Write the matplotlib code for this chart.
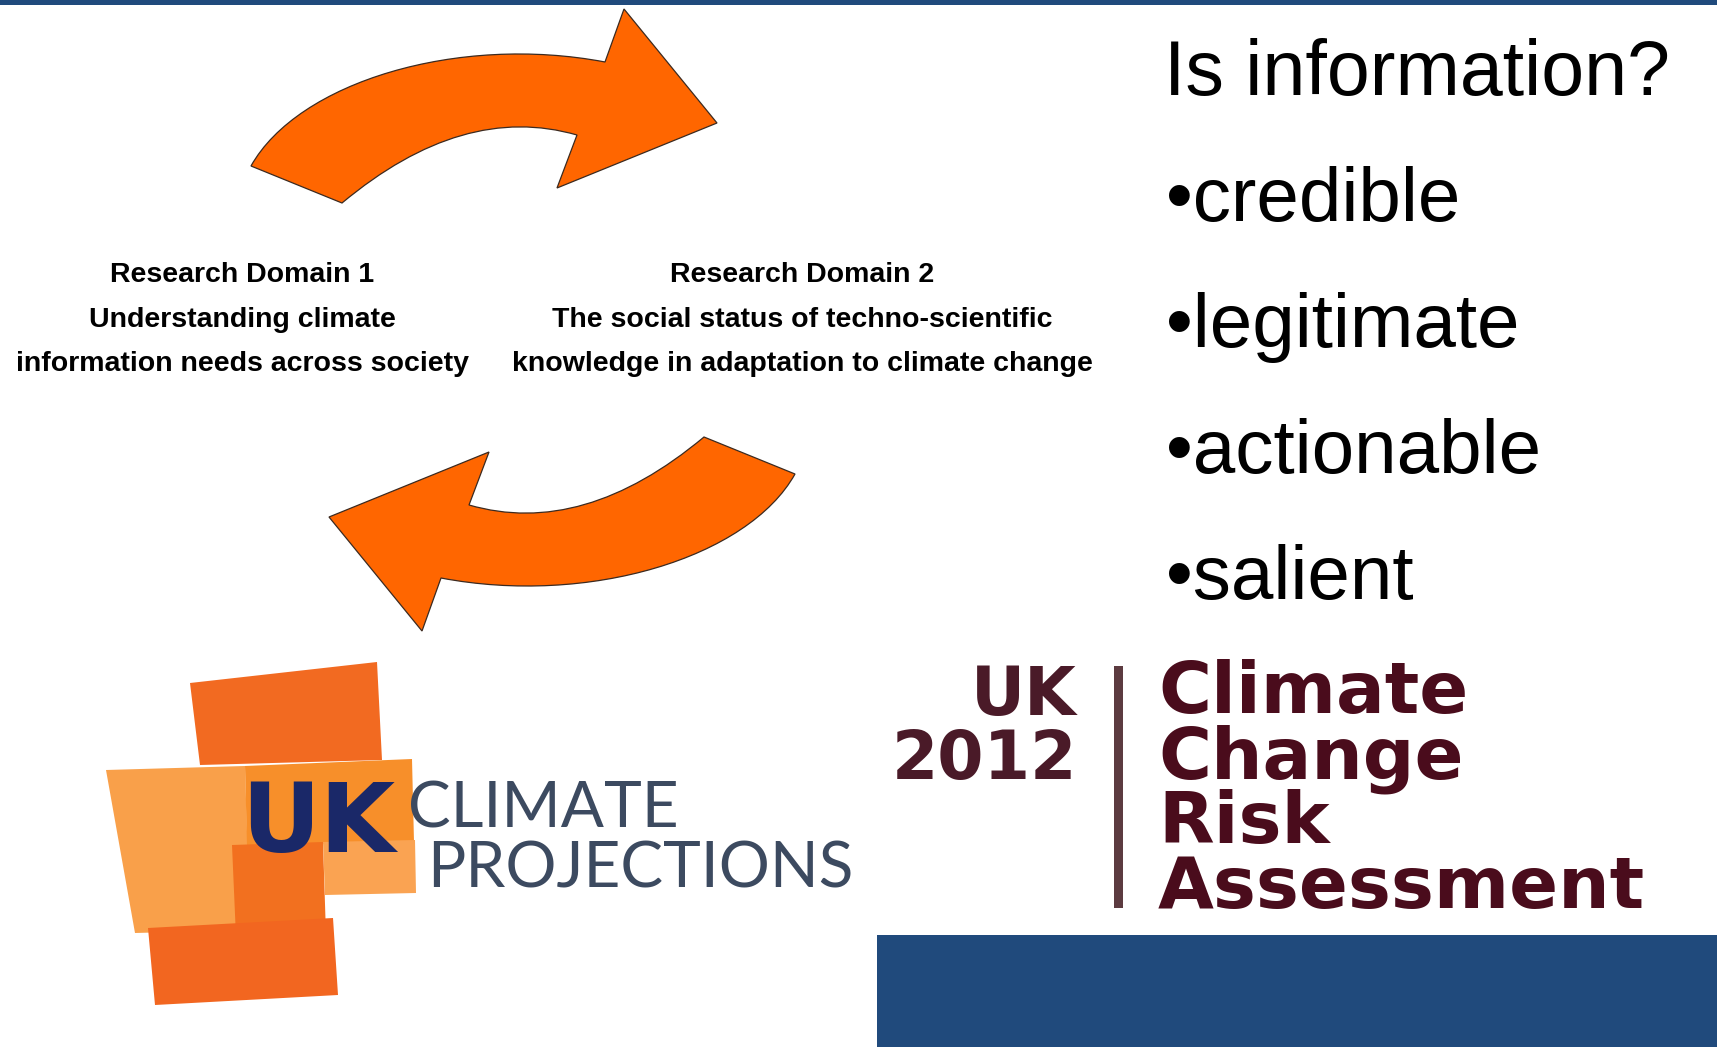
#!/usr/bin/env python
# -*- coding: utf-8 -*-

""" Research domains slide with the two curved arrows and logos """

import matplotlib
matplotlib.use('Agg')
import matplotlib.pyplot as plt
from matplotlib.path import Path
from matplotlib.patches import PathPatch, Polygon, Rectangle
from matplotlib.transforms import Affine2D

WIDTH, HEIGHT = 1717, 1047
BLUE = '#204A7C'
ORANGE = '#FF6600'
MAROON = '#4A0C1C'

# text content
DOMAIN_1 = ['Research Domain 1', 'Understanding climate',
            'information needs across society']
DOMAIN_2 = ['Research Domain 2', 'The social status of techno-scientific',
            'knowledge in adaptation to climate change']
QUESTION = 'Is information?'
BULLETS = ['credible', 'legitimate', 'actionable', 'salient']
UKCP_WORDS = ['UK', 'CLIMATE', 'PROJECTIONS']
CCRA_LEFT = ['UK', '2012']
CCRA_RIGHT = ['Climate', 'Change', 'Risk', 'Assessment']

# arrow outline (pixels, y down): tail, outer curve, head, inner curve
ARROW_VERTS = [(251, 166), (298, 82), (458, 34), (605, 62), (624, 9),
               (717, 123), (557, 188), (577, 135), (463, 102), (342, 203),
               (251, 166)]
ARROW_CODES = [Path.MOVETO, Path.CURVE4, Path.CURVE4, Path.CURVE4,
               Path.LINETO, Path.LINETO, Path.LINETO, Path.LINETO,
               Path.CURVE3, Path.CURVE3, Path.CLOSEPOLY]
ARROW_PIVOT = (523, 320)

# UKCP logo blocks: corners and colour
LOGO_BLOCKS = [
    ([(190, 683), (377, 662), (382, 760), (200, 765)], '#F26A21'),
    ([(106, 770), (245, 766), (250, 930), (135, 933)], '#F9A04A'),
    ([(245, 766), (412, 759), (414, 842), (247, 846)], '#F78F2A'),
    ([(232, 845), (323, 842), (326, 935), (236, 937)], '#F2701F'),
    ([(323, 842), (415, 840), (416, 893), (325, 895)], '#FAA352'),
    ([(148, 928), (333, 918), (338, 995), (155, 1005)], '#F26620'),
]


def draw_arrows(ax):
    """ Top arrow and the same shape turned half round """
    path = Path(ARROW_VERTS, ARROW_CODES)
    for angle in (0, 180):
        trans = Affine2D().rotate_deg_around(ARROW_PIVOT[0], ARROW_PIVOT[1],
                                             angle) + ax.transData
        ax.add_patch(PathPatch(path, facecolor=ORANGE, edgecolor='#3B2A20',
                               linewidth=0.9, transform=trans, zorder=3))


def draw_domains(ax):
    """ Bold centred captions between the arrows """
    line_y = [275, 320, 364]
    for center_x, lines in ((242, DOMAIN_1), (802, DOMAIN_2)):
        for y_pos, line in zip(line_y, lines):
            ax.text(center_x, y_pos, line, ha='center', va='center',
                    fontsize=20.5, fontweight='bold',
                    family='Liberation Sans', color='black')


def draw_question(ax):
    """ Question and bullet list on the right """
    baselines = [95, 221, 347, 473, 599]
    ax.text(1164, baselines[0], QUESTION, ha='left', va='baseline',
            fontsize=55.5, family='Liberation Sans', color='black')
    for y_pos, word in zip(baselines[1:], BULLETS):
        ax.text(1166, y_pos, '\u2022' + word, ha='left', va='baseline',
                fontsize=55, family='Liberation Sans', color='black')


def draw_ukcp(ax):
    """ UK Climate Projections logo """
    for corners, colour in LOGO_BLOCKS:
        ax.add_patch(Polygon(corners, closed=True, facecolor=colour,
                             edgecolor='none', zorder=2))
    ax.text(241, 852, UKCP_WORDS[0], ha='left', va='baseline', fontsize=70,
            fontweight='bold', family='DejaVu Sans', color='#1A2868',
            zorder=4)
    ax.text(408, 827, UKCP_WORDS[1], ha='left', va='baseline', fontsize=46,
            family='Lato', color='#3C4A60', zorder=4)
    ax.text(427, 888, UKCP_WORDS[2], ha='left', va='baseline', fontsize=46,
            family='Lato', color='#3C4A60', zorder=4)


def draw_ccra(ax):
    """ UK 2012 Climate Change Risk Assessment logo """
    for y_pos, word in zip([715, 779], CCRA_LEFT):
        ax.text(1077, y_pos, word, ha='right', va='baseline', fontsize=48,
                fontweight='bold', family='DejaVu Sans', color='#4A1A28')
    ax.add_patch(Rectangle((1114, 666), 9, 242, facecolor='#5C3B40',
                           edgecolor='none'))
    for y_pos, word in zip([713, 778, 843, 908], CCRA_RIGHT):
        ax.text(1158, y_pos, word, ha='left', va='baseline', fontsize=52,
                fontweight='bold', family='DejaVu Sans', color=MAROON)


def main():
    """Main function"""
    fig = plt.figure(figsize=(WIDTH / 100, HEIGHT / 100), dpi=100)
    ax = fig.add_axes([0, 0, 1, 1])
    ax.set_xlim(0, WIDTH)
    ax.set_ylim(HEIGHT, 0)
    ax.axis('off')

    # slide frame: thin top band and block at the bottom right
    ax.add_patch(Rectangle((0, 0), WIDTH, 5, facecolor=BLUE,
                           edgecolor='none'))
    ax.add_patch(Rectangle((877, 935), WIDTH - 877, HEIGHT - 935,
                           facecolor=BLUE, edgecolor='none'))

    draw_arrows(ax)
    draw_domains(ax)
    draw_question(ax)
    draw_ukcp(ax)
    draw_ccra(ax)

    fig.savefig('out.png', dpi=100, facecolor='white')
    plt.close('all')


if __name__ == '__main__':
    main()
